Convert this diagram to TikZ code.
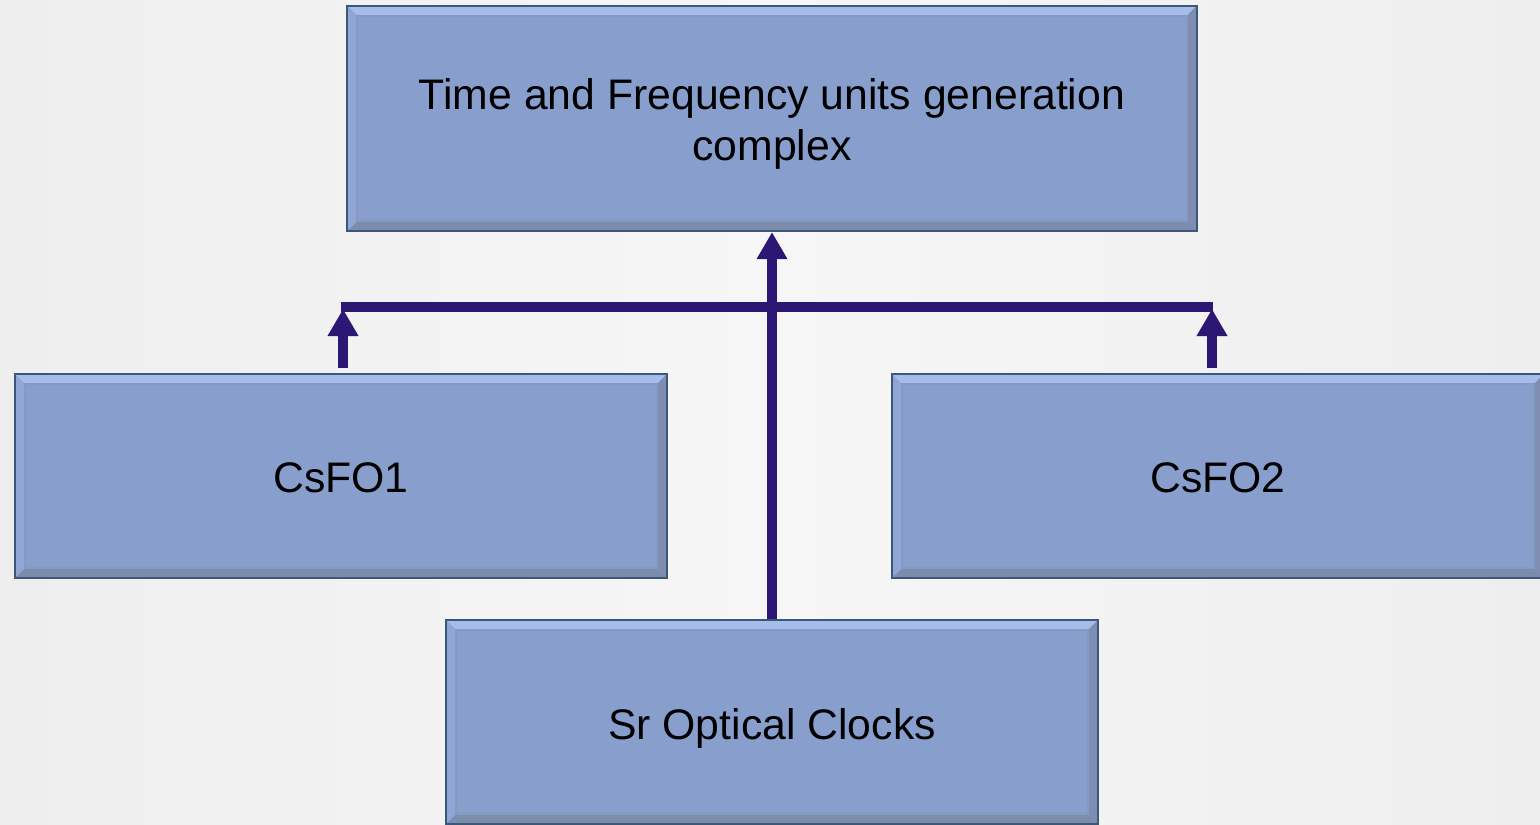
\documentclass[tikz,border=0pt]{standalone}
\usepackage{fontspec}
\setmainfont{Liberation Sans}
\usetikzlibrary{arrows.meta}
\definecolor{boxfill}{HTML}{889FCE}
\definecolor{boxline}{HTML}{3B5878}
\definecolor{bevtop}{HTML}{A6BDEB}
\definecolor{bevleft}{HTML}{8FA6D6}
\definecolor{bevbot}{HTML}{7C8CAD}
\definecolor{bevright}{HTML}{7E8EB2}
\definecolor{conn}{RGB}{44,24,116}
\definecolor{bgside}{HTML}{EEEEEE}
\definecolor{bgmid}{HTML}{F6F6F6}
\newcommand{\lowertext}[2]{\raisebox{-#1}[\height][\depth]{#2}}
\tikzset{
  bevelbox/.style={draw=boxline, line width=0.6pt, fill=boxfill, inner sep=0pt,
    minimum width=6.52cm, minimum height=2.04cm, align=center,
    font=\fontsize{12.15}{14.5}\selectfont,
    path picture={
      \coordinate (pnw) at (path picture bounding box.north west);
      \coordinate (pne) at (path picture bounding box.north east);
      \coordinate (psw) at (path picture bounding box.south west);
      \coordinate (pse) at (path picture bounding box.south east);
      \fill[bevtop] (pnw) -- (pne) -- ([shift={(-0.1cm,-0.1cm)}]pne) -- ([shift={(0.1cm,-0.1cm)}]pnw) -- cycle;
      \fill[bevbot] (psw) -- (pse) -- ([shift={(-0.1cm,0.1cm)}]pse) -- ([shift={(0.1cm,0.1cm)}]psw) -- cycle;
      \fill[bevleft] (pnw) -- ([shift={(0.1cm,-0.1cm)}]pnw) -- ([shift={(0.1cm,0.1cm)}]psw) -- (psw) -- cycle;
      \fill[bevright] (pne) -- ([shift={(-0.1cm,-0.1cm)}]pne) -- ([shift={(-0.1cm,0.1cm)}]pse) -- (pse) -- cycle;
      \draw[boxfill!80!gray, line width=0.5pt] ([shift={(0.1cm,-0.1cm)}]pnw) rectangle ([shift={(-0.1cm,0.1cm)}]pse);
    }},
  connline/.style={draw=conn, line width=2.85pt},
  arr/.style={connline, -{Triangle[width=0.29cm, length=0.27cm]}}
}
\begin{document}
\begin{tikzpicture}[x=0.01cm, y=-0.01cm]
\useasboundingbox (0,0) rectangle (1540,825);
\clip (0,0) rectangle (1540,825);
\shade[left color=bgside, right color=bgside, middle color=bgmid] (0,0) rectangle (1540,825);

\node[bevelbox, minimum width=8.49cm, minimum height=2.25cm] (top) at (772,118.5)
  {\lowertext{0.06cm}{\begin{tabular}{@{}c@{}}Time and Frequency units generation\\complex\end{tabular}}};
\node[bevelbox] (cs1) at (341,476) {\lowertext{0.015cm}{CsFO1}};
\node[bevelbox] (cs2) at (1218,476) {\lowertext{0.015cm}{CsFO2}};
\node[bevelbox] (sr) at (772,722) {\lowertext{0.06cm}{Sr Optical Clocks}};

\coordinate (hl) at (341,307);
\coordinate (hr) at (1213,307);
\coordinate (a1) at (343,309);
\coordinate (a2) at (1212,309);

\draw[connline] (hl) -- (hr);
\draw[arr] (sr.north) -- (top.south);
\draw[arr] ([yshift=0.05cm]cs1.north -| a1) -- (a1);
\draw[arr] ([yshift=0.05cm]cs2.north -| a2) -- (a2);
\end{tikzpicture}
\end{document}
